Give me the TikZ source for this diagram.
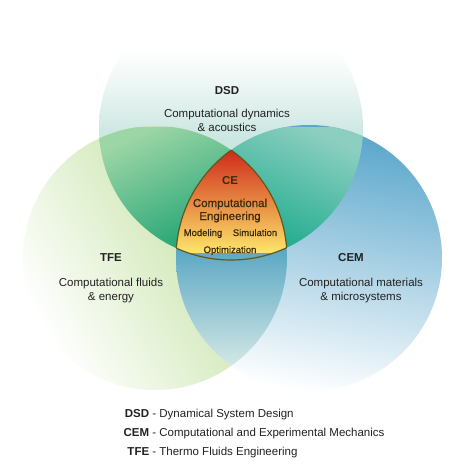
\documentclass[tikz,border=0pt]{standalone}
\usepackage{fontspec}
\setmainfont{Liberation Sans}
\newfontfamily\cefont{Liberation Sans}[FakeBold=0.9]
\definecolor{topc}{HTML}{B9DFD8}
\definecolor{topm}{HTML}{CFE8E3}
\definecolor{topl}{HTML}{E2F1EE}
\definecolor{topx}{HTML}{F2F9F7}
\definecolor{leftc}{HTML}{B8DC90}
\definecolor{rightc}{HTML}{5AA6CB}
\definecolor{rightm}{HTML}{A7CFE2}
\definecolor{tlA}{HTML}{9CD5A6}
\definecolor{tlB}{HTML}{0E9C6C}
\definecolor{trA}{HTML}{8CCFC0}
\definecolor{trB}{HTML}{0AA585}
\definecolor{lrA}{HTML}{52A2C2}
\definecolor{lrM}{HTML}{80BACB}
\definecolor{lrB}{HTML}{D5E9E5}
\definecolor{ceA}{HTML}{CF2A1A}
\definecolor{ceM}{HTML}{F28C24}
\definecolor{ceB}{HTML}{FDE46A}
\definecolor{celine}{HTML}{5C5A1E}
\definecolor{cetext}{HTML}{3C2C0C}
\definecolor{txt}{HTML}{222222}
\pgfdeclareverticalshading{topshade}{100bp}{color(0bp)=(topc); color(36bp)=(topc); color(49.6bp)=(topm); color(55bp)=(topl); color(60bp)=(topx); color(65bp)=(white); color(100bp)=(white)}
\begin{document}
\begin{tikzpicture}[x=1pt,y=-1pt,
  lbl/.style={font=\fontsize{11.5}{14}\selectfont\bfseries, text=txt, inner sep=0pt, anchor=base},
  desc/.style={font=\fontsize{11.5}{14}\selectfont, text=txt, inner sep=0pt, align=center, anchor=base},
  cetxt/.style={font=\fontsize{11.5}{13}\selectfont\cefont, text=cetext, inner sep=0pt, anchor=base},
  cesmall/.style={font=\fontsize{9.5}{11}\selectfont\cefont, text=cetext, inner sep=0pt, anchor=base},
  legend/.style={font=\fontsize{11.5}{14}\selectfont, text=txt, inner sep=0pt, anchor=base west}]
\useasboundingbox (0,0) rectangle (474,474);
\fill[white] (0,0) rectangle (474,474);
\coordinate (T) at (231,128);
\coordinate (L) at (155,258);
\coordinate (R) at (309,258);
% single circles
\shade[shading=topshade] (T) circle[radius=132];
\shade[top color=leftc, bottom color=white, shading angle=-60] (L) circle[radius=132];
\shade[top color=rightc, middle color=rightm, bottom color=white, shading angle=-10] (R) circle[radius=133];
% top-left lens
\begin{scope}
  \clip (T) circle[radius=132];
  \clip (L) circle[radius=132];
  \shade[top color=tlA, bottom color=tlB, shading angle=25] (99,127) rectangle (287,250);
\end{scope}
% top-right lens
\begin{scope}
  \clip (T) circle[radius=132];
  \clip (R) circle[radius=133];
  \shade[top color=trA, bottom color=trB, shading angle=-25] (176,127) rectangle (363,250);
\end{scope}
% bottom lens
\begin{scope}
  \clip (L) circle[radius=132];
  \clip (R) circle[radius=133];
  \shade[top color=lrA, middle color=lrM, bottom color=lrB] (170,240) rectangle (290,368);
\end{scope}
% CE region
\begin{scope}
  \clip (T) circle[radius=132];
  \clip (L) circle[radius=132];
  \clip (R) circle[radius=133];
  \shade[top color=ceA, middle color=ceM, bottom color=ceB] (170,150) rectangle (290,252);
\end{scope}
\begin{scope}
  \clip (L) circle[radius=132];
  \clip (R) circle[radius=133];
  \draw[celine, line width=1.2pt] (T) circle[radius=132];
\end{scope}
\begin{scope}
  \clip (T) circle[radius=132];
  \clip (R) circle[radius=133];
  \draw[celine, line width=1.2pt] (L) circle[radius=132];
\end{scope}
\begin{scope}
  \clip (T) circle[radius=132];
  \clip (L) circle[radius=132];
  \draw[celine, line width=1.2pt] (R) circle[radius=133];
\end{scope}
% labels
\node[lbl] (dsd) at (227,94) {DSD};
\node[desc] (dsdd) at (227,131) {Computational dynamics\\\& acoustics};
\node[lbl] (tfe) at (111,261) {TFE};
\node[desc] (tfed) at (111,300) {Computational fluids\\\& energy};
\node[lbl] (cem) at (351,261) {CEM};
\node[desc] (cemd) at (361,300) {Computational materials\\\& microsystems};
% CE texts
\node[cetxt, font=\fontsize{11.5}{13}\selectfont\bfseries] (ce) at (230,184) {CE};
\node[cetxt] (ce1) at (230,207) {Computational};
\node[cetxt] (ce2) at (230,220) {Engineering};
\node[cesmall] (ce3) at (203,236) {Modeling};
\node[cesmall] (ce4) at (255,236) {Simulation};
\node[cesmall] (ce5) at (230,253) {Optimization};
% legend
\node[legend] (lg1) at (123,417) {\makebox[26pt][r]{\bfseries DSD} - Dynamical System Design};
\node[legend] (lg2) at (123,436) {\makebox[26pt][r]{\bfseries CEM} - Computational and Experimental Mechanics};
\node[legend] (lg3) at (123,455) {\makebox[26pt][r]{\bfseries TFE} - Thermo Fluids Engineering};
\end{tikzpicture}
\end{document}
